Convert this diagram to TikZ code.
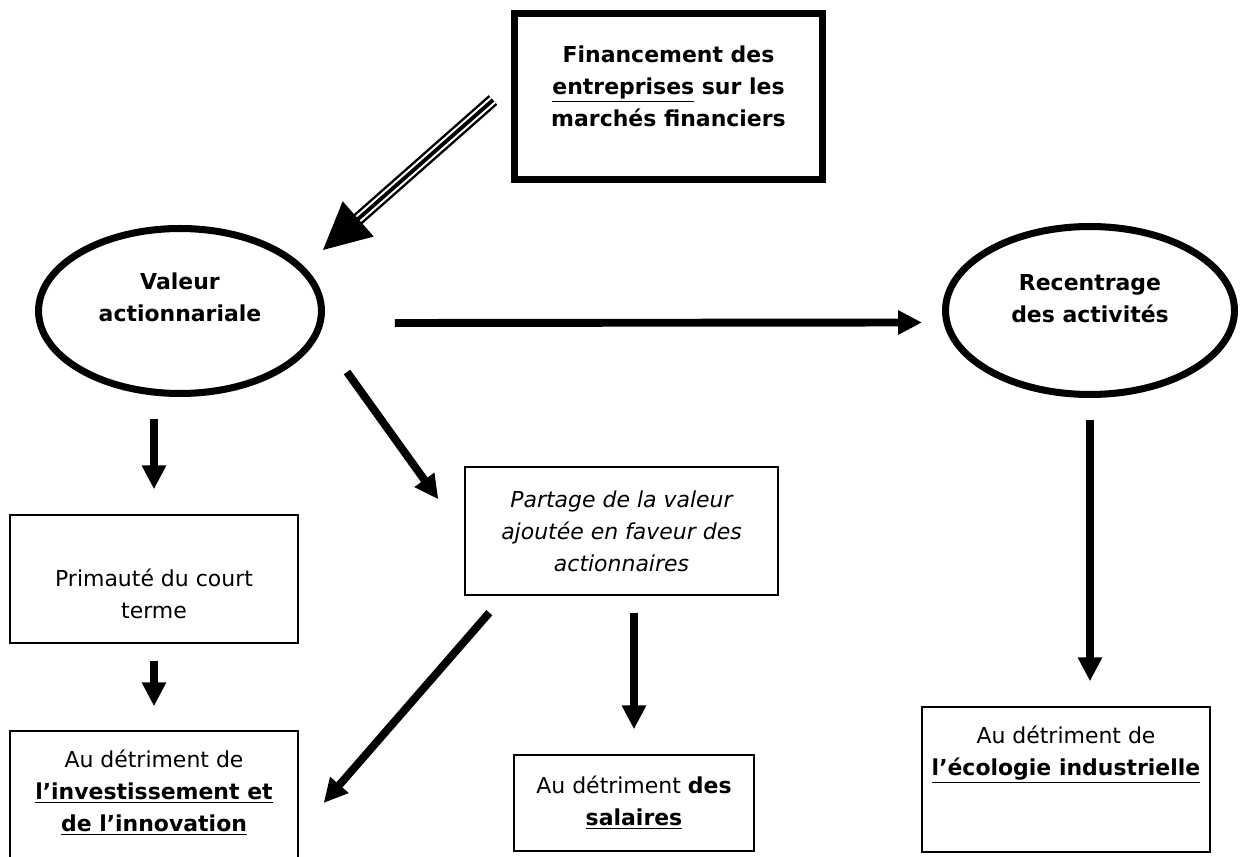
\documentclass[tikz,border=0pt]{standalone}
\usepackage{fontspec}
\setmainfont{DejaVu Sans}
\usetikzlibrary{arrows.meta, shapes.geometric}
\tikzset{
    texte/.style={align=center, font=\fontsize{12.5}{18.2}\selectfont}, % texte normal
    gras/.style={align=center, font=\fontsize{12.5}{18.2}\selectfont\bfseries},
    penche/.style={align=center, font=\fontsize{12.5}{18.2}\selectfont\itshape},
    oval/.style={ellipse, draw, line width=4pt, inner sep=0pt},
    cadre/.style={rectangle, draw, line width=0.8pt, inner sep=0pt},
    gros cadre/.style={rectangle, draw, line width=4pt, inner sep=0pt},
    fleche/.style={line width=4.5pt, -{Triangle[length=0.48cm, width=0.46cm]}},
}

\begin{document}
\begin{tikzpicture}[x=0.02cm, y=-0.02cm]
        \clip (0,0) rectangle (1242,857);

        % Formes
        \node[gros cadre, minimum width=6.16cm, minimum height=3.32cm] (fin) at (668.5,96.5) {};
        \node[oval, minimum width=5.66cm, minimum height=3.3cm] (val) at (180,311) {};
        \node[oval, minimum width=5.78cm, minimum height=3.36cm] (rec) at (1090,310.5) {};
        \node[cadre, minimum width=5.76cm, minimum height=2.56cm] (court) at (154,579) {};
        \node[cadre, minimum width=5.76cm, minimum height=2.8cm] (inno) at (154,801) {};
        \node[cadre, penche, minimum width=6.26cm, minimum height=2.56cm] (part) at (621.5,531)
            {Partage de la valeur\\ajoutée en faveur des\\actionnaires};
        \node[cadre, texte, minimum width=4.8cm, minimum height=1.92cm] (sal) at (634,803)
            {Au détriment \textbf{des}\\\textbf{\underline{salaires}}};
        \node[cadre, minimum width=5.76cm, minimum height=2.9cm] (eco) at (1066,779.5) {};

        % Textes
        \node[gras] (fin-t) at ([shift={(0,-10)}]fin) {Financement des\\\underline{entreprises} sur les\\marchés financiers};
        \node[gras] (val-t) at ([shift={(0,-14)}]val) {Valeur\\actionnariale};
        \node[gras] (rec-t) at ([shift={(0,-12)}]rec) {Recentrage\\des activités};
        \node[texte] (court-t) at ([shift={(0,15)}]court) {Primauté du court\\terme};
        \node[texte] (inno-t) at ([shift={(0,-8)}]inno)
            {Au détriment de\\\textbf{\underline{l’investissement et}}\\\textbf{\underline{de l’innovation}}};
        \node[texte] (eco-t) at ([shift={(0,-25)}]eco) {Au détriment de\\\textbf{\underline{l’écologie industrielle}}};

        % Fleche triple
        \draw[line width=1.4pt, double distance=4.6pt, shorten >=0.9cm]
            ([shift={(-18,3.5)}]fin.west) -- ([shift={(-2,-61)}]val.east);
        \draw[line width=2.2pt, -{Triangle[length=0.94cm, width=0.92cm]}]
            ([shift={(-18,3.5)}]fin.west) -- ([shift={(-2,-61)}]val.east);

        % Fleches
        \draw[fleche] ([shift={(70,12)}]val.east) -- ([shift={(-20,12)}]rec.west);
        \draw[fleche, shorten <=0.44cm, shorten >=0.5cm] (val.south -| court.north) -- (court.north);
        \draw[fleche] ([shift={(22,61)}]val.east) -- ([shift={(-26,33)}]part.north west);
        \draw[fleche, shorten <=0.34cm, shorten >=0.48cm] (court.south) -- (inno.north);
        \draw[fleche] ([shift={(25,17)}]part.south west) -- ([shift={(25,2)}]inno.east);
        \draw[fleche, shorten <=0.34cm, shorten >=0.5cm] (sal.north |- part.south) -- (sal.north);
        \draw[fleche, shorten <=0.44cm, shorten >=0.5cm] (rec.south) -- (rec.south |- eco.north);
\end{tikzpicture}
\end{document}
